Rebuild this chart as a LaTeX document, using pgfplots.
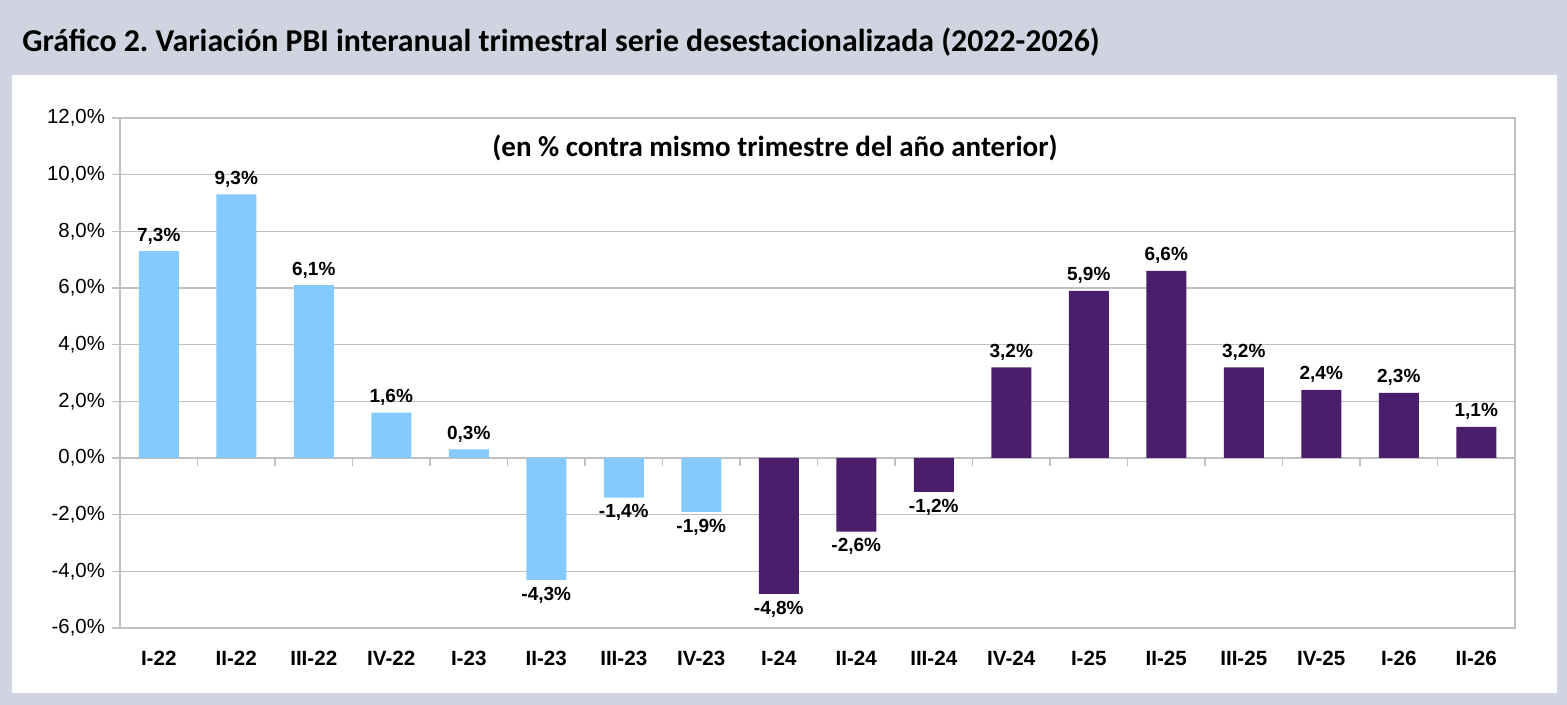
\documentclass[border=0pt]{standalone}
\usepackage{pgfplots}
\pgfplotsset{compat=1.18}
\usepackage{fontspec}
\setmainfont{Liberation Sans}
\newfontfamily\carlito{Carlito}
\definecolor{bgc}{RGB}{207,212,224}
\definecolor{lblue}{RGB}{133,202,255}
\definecolor{purp}{RGB}{74,30,107}
\definecolor{gridc}{RGB}{192,192,192}
\frenchspacing
\begin{document}
\begin{tikzpicture}[x=0.5pt,y=0.5pt]
\fill[bgc] (0,0) rectangle (1567,705);
\fill[white] (12,12) rectangle (1557,630);
\node[anchor=west,inner sep=0pt,font=\carlito\bfseries\fontsize{15.9}{18}\selectfont] at (22,663) {Gráfico 2. Variación PBI interanual trimestral serie desestacionalizada (2022-2026)};
\begin{axis}[
  at={(60pt,38.5pt)}, anchor=south west,
  width=697.5pt, height=255pt, scale only axis,
  ymin=-6, ymax=12, ytick={-6,-4,...,12},
  xmin=-0.5, xmax=17.5, xtick={0,...,17},
  xticklabels={I-22,II-22,III-22,IV-22,I-23,II-23,III-23,IV-23,I-24,II-24,III-24,IV-24,I-25,II-25,III-25,IV-25,I-26,II-26},
  ybar, bar width=20pt, bar shift=0pt,
  ymajorgrids, grid style={gridc, line width=0.6pt},
  axis line style={gridc, line width=0.6pt},
  ytick style={gridc, line width=0.6pt}, ytick pos=left, tick align=outside,
  major tick length=4pt,
  xtick style={draw=none}, xtick pos=bottom,
  /pgf/number format/assume math mode=true,
  yticklabel={\pgfmathprintnumber[fixed,fixed zerofill,precision=1,use comma]{\tick}\%},
  yticklabel style={font=\fontsize{10.2}{12}\selectfont, text=black},
  xticklabel style={font=\bfseries\fontsize{10.3}{12}\selectfont, text=black, yshift=-4pt},
  nodes near coords={\pgfmathprintnumber[fixed,fixed zerofill,precision=1,use comma]{\pgfplotspointmeta}\%},
  every node near coord/.append style={font=\bfseries\fontsize{9.5}{11}\selectfont, text=black},
  clip=false,
]
\addplot[fill=lblue, draw=none] coordinates {(0,7.3) (1,9.3) (2,6.1) (3,1.6) (4,0.3) (5,-4.3) (6,-1.4) (7,-1.9)};
\addplot[fill=purp, draw=none] coordinates {(8,-4.8) (9,-2.6) (10,-1.2) (11,3.2) (12,5.9) (13,6.6) (14,3.2) (15,2.4) (16,2.3) (17,1.1)};
\pgfplotsinvokeforeach{0.5,1.5,...,16.5}{\draw[gridc, line width=0.6pt] (axis cs:#1,0) -- ++(0pt,-4pt);}
\end{axis}
\node[font=\carlito\bfseries\fontsize{14.5}{17}\selectfont] at (775,557) {(en \% contra mismo trimestre del año anterior)};
\end{tikzpicture}
\end{document}
